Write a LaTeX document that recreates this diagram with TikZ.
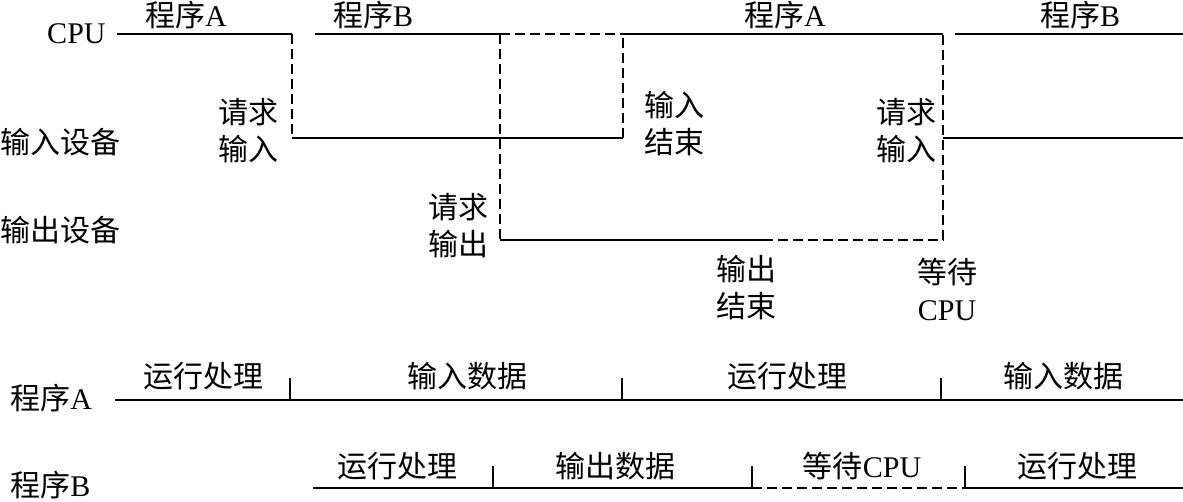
\documentclass[tikz,border=0pt]{standalone}
\usepackage{fontspec}
\setmainfont{Liberation Serif}
\newfontfamily\cjk{Noto Sans CJK SC}
\tikzset{
  lbl/.style={inner sep=0pt,font=\fontsize{15}{18.5}\selectfont,align=center},
  runline/.style={line width=1pt},
  waitline/.style={line width=1pt,dash pattern=on 5pt off 2.5pt},
  tickline/.style={line width=1pt}
}

\begin{document}
\begin{tikzpicture}[x=0.5pt,y=-0.5pt]
  \useasboundingbox (0,0) rectangle (1183,502);
  % row labels
  \node[lbl,anchor=east] (cpu) at (106,34) {CPU};
  \node[lbl,anchor=west] (indev) at (0,142) {\cjk 输入设备};
  \node[lbl,anchor=west] (outdev) at (0,230) {\cjk 输出设备};
  % time points
  \coordinate (cA0) at (117,34);  \coordinate (cA1) at (292,34);
  \coordinate (cB0) at (315,34);  \coordinate (cB1) at (500,34);
  \coordinate (cA2) at (623,34);  \coordinate (cA3) at (943,34);
  \coordinate (cB2) at (955,34);  \coordinate (cEnd) at (1183,34);
  \coordinate (iA0) at (292,138); \coordinate (iA1) at (623,138);
  \coordinate (iB0) at (943,138); \coordinate (iEnd) at (1183,138);
  \coordinate (oB0) at (500,240); \coordinate (oB1) at (763,240);
  \coordinate (oB2) at (943,240);
  % CPU / devices
  \draw[runline] (cA0) -- (cA1);
  \draw[waitline] (cA1) -- (iA0);
  \draw[runline] (iA0) -- (iA1);
  \draw[waitline] (iA1) -- (cA2);
  \draw[runline] (cB0) -- (cB1);
  \draw[waitline] (cB1) -- (cA2);
  \draw[waitline] (cB1) -- (oB0);
  \draw[runline] (oB0) -- (oB1);
  \draw[waitline] (oB1) -- (oB2) -- (cA3);
  \draw[runline] (cA2) -- (cA3);
  \draw[runline] (iB0) -- (iEnd);
  \draw[runline] (cB2) -- (cEnd);
  % labels on top
  \node[lbl] (runA1) at (186,15) {{\cjk 程序}A};
  \node[lbl] (runB1) at (373,15) {{\cjk 程序}B};
  \node[lbl] (runA2) at (785,15) {{\cjk 程序}A};
  \node[lbl] (runB2) at (1080,15) {{\cjk 程序}B};
  \node[lbl] (reqin1) at (248,131) {\cjk 请求\\\cjk 输入};
  \node[lbl] (inend) at (674,124) {\cjk 输入\\\cjk 结束};
  \node[lbl] (reqin2) at (906,131) {\cjk 请求\\\cjk 输入};
  \node[lbl] (reqout) at (458,226) {\cjk 请求\\\cjk 输出};
  \node[lbl] (outend) at (746,288) {\cjk 输出\\\cjk 结束};
  \node[lbl] (waitcpu) at (947,289) {\cjk 等待\\CPU};

  % program A
  \node[lbl,anchor=west] (progA) at (10,398) {{\cjk 程序}A};
  \coordinate (pA0) at (115,400); \coordinate (pAEnd) at (1183,400);
  \coordinate (pA1) at (290,400); \coordinate (tA1) at (290,378);
  \coordinate (pA2) at (622,400); \coordinate (tA2) at (622,378);
  \coordinate (pA3) at (941,400); \coordinate (tA3) at (941,378);
  \draw[runline] (pA0) -- (pAEnd);
  \draw[tickline] (pA1) -- (tA1);
  \draw[tickline] (pA2) -- (tA2);
  \draw[tickline] (pA3) -- (tA3);
  \node[lbl] (a1) at (203,376) {\cjk 运行处理};
  \node[lbl] (a2) at (467,376) {\cjk 输入数据};
  \node[lbl] (a3) at (787,376) {\cjk 运行处理};
  \node[lbl] (a4) at (1063,376) {\cjk 输入数据};

  % program B
  \node[lbl,anchor=west] (progB) at (10,485) {{\cjk 程序}B};
  \coordinate (pB0) at (313,488); \coordinate (pBEnd) at (1183,488);
  \coordinate (pB1) at (493,488); \coordinate (tB1) at (493,466);
  \coordinate (pB2) at (752,488); \coordinate (tB2) at (752,466);
  \coordinate (pB3) at (965,488); \coordinate (tB3) at (965,466);
  \draw[runline] (pB0) -- (pB2);
  \draw[waitline] (pB2) -- (pB3);
  \draw[runline] (pB3) -- (pBEnd);
  \draw[tickline] (pB1) -- (tB1);
  \draw[tickline] (pB2) -- (tB2);
  \draw[tickline] (pB3) -- (tB3);
  \node[lbl] (b1) at (397,466) {\cjk 运行处理};
  \node[lbl] (b2) at (615,466) {\cjk 输出数据};
  \node[lbl] (b3) at (862,466) {{\cjk 等待}CPU};
  \node[lbl] (b4) at (1077,466) {\cjk 运行处理};
\end{tikzpicture}
\end{document}
